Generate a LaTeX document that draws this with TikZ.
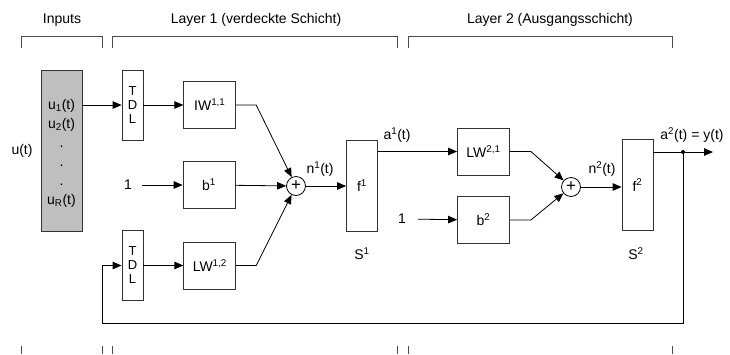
\documentclass[tikz,border=0pt]{standalone}
\usepackage{fontspec}
\setmainfont{Liberation Sans}
\usetikzlibrary{arrows.meta,positioning}

\begin{document}
\begin{tikzpicture}[
  x=1pt, y=-1pt,
  font=\fontsize{14}{15}\selectfont,
  node distance=40pt,
  blk/.style={draw=black!80, line width=0.8pt, fill=white, inner sep=0pt, align=center},
  wbox/.style={blk, minimum width=52pt, minimum height=47pt},
  tdl/.style={blk, minimum width=21pt, minimum height=70pt, font=\fontsize{13}{14}\selectfont},
  fbox/.style={blk, minimum width=31pt, minimum height=91pt},
  sumnode/.style={draw, circle, line width=0.8pt, minimum size=19pt, inner sep=0pt, font=\fontsize{17}{17}\selectfont},
  arr/.style={-{Triangle[length=9pt,width=7.5pt]}, line width=0.8pt},
  brk/.style={line width=0.8pt, draw=black!70}
]
  \useasboundingbox (0,0) rectangle (730,354);
  % headings and brackets
  \node (hinp) at (62,20) {Inputs};
  \node (hl1) at (256,20) {Layer 1 (verdeckte Schicht)};
  \node (hl2) at (550,20) {Layer 2 (Ausgangsschicht)};
  \foreach \l/\r in {21/102,112/397,408/672} {
    \draw[brk] (\l,48) |- (\r,36) -- (\r,48);
    \draw[brk] (\l,346) -- (\l,354);
    \draw[brk] (\r,346) -- (\r,354);
  }
  % inputs
  \node[blk, fill=gray!50, minimum width=41pt, minimum height=161pt] (inp) at (61.5,150.5) {};
  \node[align=center, font=\fontsize{14}{19}\selectfont] (inptxt) at (61.5,153.5)
    {u\textsubscript{1}(t)\\u\textsubscript{2}(t)\\.\\.\\.\\u\textsubscript{R}(t)};
  \node (ut) at (22,151) {u(t)};
  % layer 1
  \node[tdl] (tdlA) at (132.5,105) {T\\D\\L};
  \node[wbox, right=of tdlA] (iw) {IW\textsuperscript{1,1}};
  \node[wbox] (b1) at (209,185) {b\textsuperscript{1}};
  \node[inner xsep=10pt] (one1) at (128,185) {1};
  \node[tdl] (tdlB) at (132.5,265.5) {T\\D\\L};
  \node[wbox, right=of tdlB] (lw12) {LW\textsuperscript{1,2}};
  \node[sumnode] (sum1) at (296,186) {+};
  \node (n1) at (320,169) {n\textsuperscript{1}(t)};
  \node[fbox] (f1) at (362,185.5) {f\textsuperscript{1}};
  \node (s1) at (362,254) {S\textsuperscript{1}};
  \node (a1) at (397,135) {a\textsuperscript{1}(t)};
  % layer 2
  \node[wbox] (lw21) at (483.5,151.5) {LW\textsuperscript{2,1}};
  \node[wbox] (b2) at (483.5,220) {b\textsuperscript{2}};
  \node[inner xsep=12pt] (one2) at (402,219) {1};
  \node[sumnode] (sum2) at (571,187) {+};
  \node (n2) at (602,169) {n\textsuperscript{2}(t)};
  \node[fbox] (f2) at (637.5,185) {f\textsuperscript{2}};
  \node (s2) at (636,254) {S\textsuperscript{2}};
  \node (a2) at (692,135) {a\textsuperscript{2}(t) = y(t)};
  \coordinate (jn) at (683,152);
  \coordinate (out) at (713,152);
  \coordinate (fbR) at (683,323);
  \coordinate (fbL) at (102,323);
  % connections
  \draw[arr] (inp.east |- tdlA) -- (tdlA);
  \draw[arr] (tdlA) -- (iw);
  \draw[arr] (one1) -- (b1);
  \draw[arr] (tdlB) -- (lw12);
  \draw[arr] (iw.east) -- ++(20,0) -- (sum1);
  \draw[arr] (b1) -- (sum1);
  \draw[arr] (lw12.east) -- ++(20,0) -- (sum1);
  \draw[arr] (sum1) -- (sum1 -| f1.west);
  \draw[arr] (f1.east |- lw21) -- (lw21);
  \draw[arr] (one2) -- (b2);
  \draw[arr] (lw21.east) -- ++(21,0) -- (sum2);
  \draw[arr] (b2.east) -- ++(21,0) -- (sum2);
  \draw[arr] (sum2) -- (sum2 -| f2.west);
  \draw[arr] (f2.east |- jn) -- (out);
  \draw[arr] (jn) -- (fbR) -- (fbL) |- (tdlB);
  \fill (jn) circle (2pt);
\end{tikzpicture}
\end{document}
